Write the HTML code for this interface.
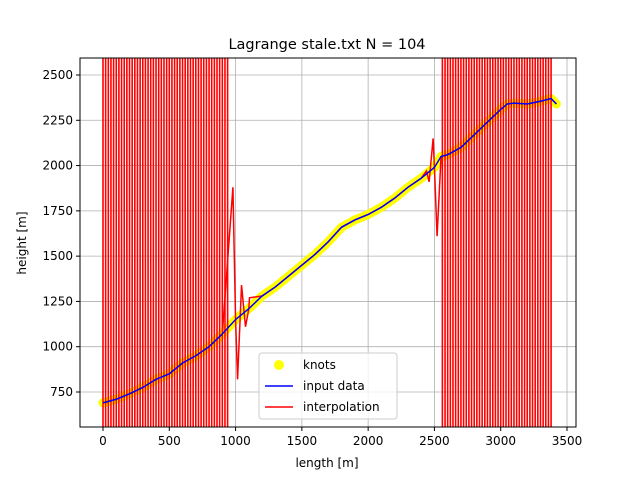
<!DOCTYPE html>
<html><head><meta charset="utf-8"><style>
html,body{margin:0;padding:0;background:#fff;overflow:hidden;width:640px;height:480px}
svg{display:block}
svg text{font-family:"DejaVu Sans","Liberation Sans",sans-serif;font-size:12px;fill:#000}
</style></head><body>
<svg id="c" width="640" height="480" xmlns="http://www.w3.org/2000/svg">
<rect width="640" height="480" fill="#fff"/>
<defs><clipPath id="pc"><rect x="80" y="58" width="496" height="369"/></clipPath></defs>
<g id="grid"></g>
<g id="plot" clip-path="url(#pc)"></g>
<rect x="80" y="58" width="496" height="369" fill="none" stroke="#000" stroke-width="1"/>
<g id="ticks"></g>
<text x="327" y="49" text-anchor="middle" style="font-size:14.5px">Lagrange stale.txt N = 104</text>
<text x="327" y="467" text-anchor="middle">length [m]</text>
<text x="26" y="243" text-anchor="middle" transform="rotate(-90 26 243)">height [m]</text>
<g>
<rect x="259" y="353" width="138" height="66" rx="3" fill="#fff" fill-opacity="0.8" stroke="#ccc"/>
<g><circle cx="279" cy="365" r="5" fill="#ff0"/><text x="303" y="369">knots</text></g>
<g><line x1="265" y1="386" x2="293" y2="386" stroke="#00f" stroke-width="1.5"/><text x="303" y="390">input data</text></g>
<g><line x1="265" y1="407" x2="293" y2="407" stroke="red" stroke-width="1.5"/><text x="303" y="411">interpolation</text></g>
</g>
</svg>
<script>
const lengths=[0,100,200,300,400,500,600,700,800,900,1000,1100,1200,1300,1400,1500,1600,1700,1800,1900,2000,2100,2200,2300,2400,2500,2550,2600,2700,2800,2900,3000,3050,3100,3200,3300,3380,3420];
const heights=[690,710,740,775,820,850,910,950,1000,1070,1150,1210,1280,1330,1390,1450,1510,1580,1660,1700,1730,1770,1820,1880,1930,1990,2050,2060,2100,2170,2240,2310,2340,2345,2340,2355,2370,2340];
const spikeX=[980,1015,1045,1075,1105,2440,2460,2490,2520];
const spikeY=[1880,820,1340,1110,1270,1970,1910,2150,1610];
const oscLeft=[0,950];
const oscRight=[2560,3390];
const xTicks=[0,500,1000,1500,2000,2500,3000,3500];
const yTicks=[750,1000,1250,1500,1750,2000,2250,2500];
const X=v=>103+v*0.13257, Y=v=>75+(2500-v)*0.18114;
const NS="http://www.w3.org/2000/svg";
function mk(t,a,p){const e=document.createElementNS(NS,t);for(const k in a)e.setAttribute(k,a[k]);p.appendChild(e);return e;}
const grid=document.getElementById('grid'),ticks=document.getElementById('ticks'),plot=document.getElementById('plot');
xTicks.forEach(v=>{const x=X(v);
 const g=mk('line',{x1:x,x2:x,y1:58,y2:427,stroke:'#b0b0b0','stroke-width':0.8},grid);
 
 
 mk('line',{x1:x,x2:x,y1:427,y2:431,stroke:'#000'},ticks);
 const t=mk('text',{x:x,y:445,'text-anchor':'middle'},ticks);t.textContent=v;
 
 });
yTicks.forEach(v=>{const y=Y(v);
 const g=mk('line',{x1:80,x2:576,y1:y,y2:y,stroke:'#b0b0b0','stroke-width':0.8},grid);
 
 
 mk('line',{x1:76,x2:80,y1:y,y2:y,stroke:'#000'},ticks);
 const t=mk('text',{x:73,y:y+4,'text-anchor':'end'},ticks);t.textContent=v;
 
 });
const pts=lengths.map((v,i)=>X(v)+','+Y(heights[i])).join(' ');
const kn=mk('polyline',{points:pts,fill:'none',stroke:'#ff0','stroke-width':9,'stroke-linejoin':'round','stroke-linecap':'round'},plot);


let ip=lengths.map((v,i)=>[v,heights[i]]).concat(spikeX.map((v,i)=>[v,spikeY[i]])).sort((a,b)=>a[0]-b[0]);
const ipl=mk('polyline',{points:ip.map(p=>X(p[0])+','+Y(p[1])).join(' '),fill:'none',stroke:'red','stroke-width':1.5},plot);


function osc(r,name){let s=[],up=true;for(let v=r[0];v<=r[1];v+=20){const y=up?-20:620,x=X(v);s.push(x+','+(up?620:-20));s.push(x+','+y);up=!up;}
 const o=mk('polyline',{points:s.join(' '),fill:'none',stroke:'red','stroke-width':1.6},plot);
 
 }
osc(oscLeft,'interpolation-oscillation-left');osc(oscRight,'interpolation-oscillation-right');
const inp=mk('polyline',{points:pts,fill:'none',stroke:'#00f','stroke-width':1.5},plot);


</script>
</body></html>
